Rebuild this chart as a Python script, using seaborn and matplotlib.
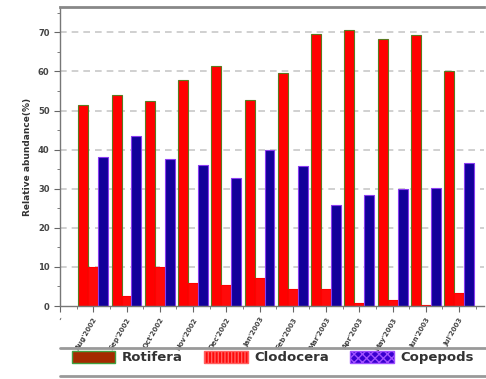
import numpy as np
import pandas as pd
import matplotlib
matplotlib.use("Agg")
import matplotlib.pyplot as plt
import seaborn as sns
from matplotlib.patches import Patch
from matplotlib.ticker import MultipleLocator, FixedLocator

months = ["Aug'2002", "Sep'2002", "Oct'2002", "Nov'2002", "Dec'2002", "Jan'2003",
          "Feb'2003", "Mar'2003", "Apr'2003", "May'2003", "Jun'2003", "Jul'2003"]
rotifera = [51.3, 53.9, 52.4, 57.7, 61.5, 52.6, 59.7, 69.7, 70.7, 68.4, 69.4, 60.1]
clodocera = [10.0, 2.6, 10.0, 6.0, 5.5, 7.2, 4.3, 4.3, 0.7, 1.5, 0.3, 3.2]
copepods = [38.1, 43.4, 37.7, 36.2, 32.8, 40.0, 35.9, 25.9, 28.5, 29.9, 30.2, 36.7]
groups = ["Rotifera", "Clodocera", "Copepods"]

df = pd.DataFrame({
    "Month": months * 3,
    "Group": sum([[g] * len(months) for g in groups], []),
    "Value": rotifera + clodocera + copepods,
})

sns.set_style("white")
plt.rcParams['font.family'] = ['DejaVu Sans']

fig = plt.figure(figsize=(4.86, 3.79), dpi=100)
ax = fig.add_axes([60 / 486, 1 - 306 / 379, 424 / 486, 299 / 379])

bar_colors = {"Rotifera": "#ff0000", "Clodocera": "#ff0a0a", "Copepods": "#12009a"}
edge_colors = {"Rotifera": "#5a7a20", "Clodocera": "#ff0000", "Copepods": "#8a3cf0"}

sns.barplot(data=df, x="Month", y="Value", hue="Group", order=months, hue_order=groups,
            palette=bar_colors, width=0.9, ax=ax, legend=False, saturation=1)

for container, g in zip(ax.containers, groups):
    for p in container:
        p.set_edgecolor(edge_colors[g])
        p.set_linewidth(0.8)

ax.set_xlim(-1.0, 11.75)
ax.set_ylim(0, 76.5)
ax.yaxis.set_major_locator(MultipleLocator(10))
ax.yaxis.set_minor_locator(MultipleLocator(5))
ax.xaxis.set_major_locator(FixedLocator([-1] + list(range(len(months)))))
ax.set_xticklabels(["-"] + months)
ax.xaxis.set_minor_locator(FixedLocator([i + 0.5 for i in range(-1, len(months))]))

ax.set_axisbelow(True)
for yv in range(10, 80, 10):
    ax.axhline(yv, color="#c8c8c8", lw=1.2, ls=(0, (4, 3)), zorder=0)

ax.tick_params(axis="both", which="major", direction="out", length=4, width=0.8,
               color="#666666", labelsize=6, labelcolor="#444444", bottom=True, left=True)
ax.tick_params(axis="both", which="minor", direction="out", length=2, width=0.6,
               color="#666666", bottom=True, left=True)
for lab in ax.get_yticklabels():
    lab.set_fontweight("bold")
for lab in ax.get_xticklabels():
    lab.set_rotation(60)
    lab.set_ha("right")
    lab.set_rotation_mode("anchor")
    lab.set_fontsize(5)
    lab.set_fontweight("bold")

ax.set_xlabel("")
ax.set_ylabel("Relative abundance(%)", fontsize=6.5, fontweight="bold", color="#333333", labelpad=4)

for s in ["left", "bottom"]:
    ax.spines[s].set_color("#777777")
    ax.spines[s].set_linewidth(1.0)
ax.spines["top"].set_color("#888888")
ax.spines["top"].set_linewidth(2.0)
ax.spines["right"].set_visible(False)

handles = [
    Patch(facecolor="#a52a00", edgecolor="#40a040", label="Rotifera"),
    Patch(facecolor="#ff0a0a", edgecolor="#ff6060", hatch="|||||", label="Clodocera"),
    Patch(facecolor="#3a00d0", edgecolor="#a050ff", hatch="xxxx", label="Copepods"),
]
leg = fig.legend(handles=handles, loc="lower left", ncol=3,
                 bbox_to_anchor=(60 / 486, 3 / 379, 426 / 486, 26 / 379), mode="expand",
                 handlelength=3.3, handleheight=1.0, handletextpad=0.5, columnspacing=0.6,
                 frameon=False, prop={"weight": "bold", "size": 9.5})
for t in leg.get_texts():
    t.set_color("#333333")

fig.add_artist(plt.Line2D([60 / 486, 1.0], [1 - 348 / 379, 1 - 348 / 379], color="#999999", lw=2.0))
fig.add_artist(plt.Line2D([60 / 486, 1.0], [1 - 376 / 379, 1 - 376 / 379], color="#999999", lw=2.0))

fig.savefig("out.png", dpi=100)
